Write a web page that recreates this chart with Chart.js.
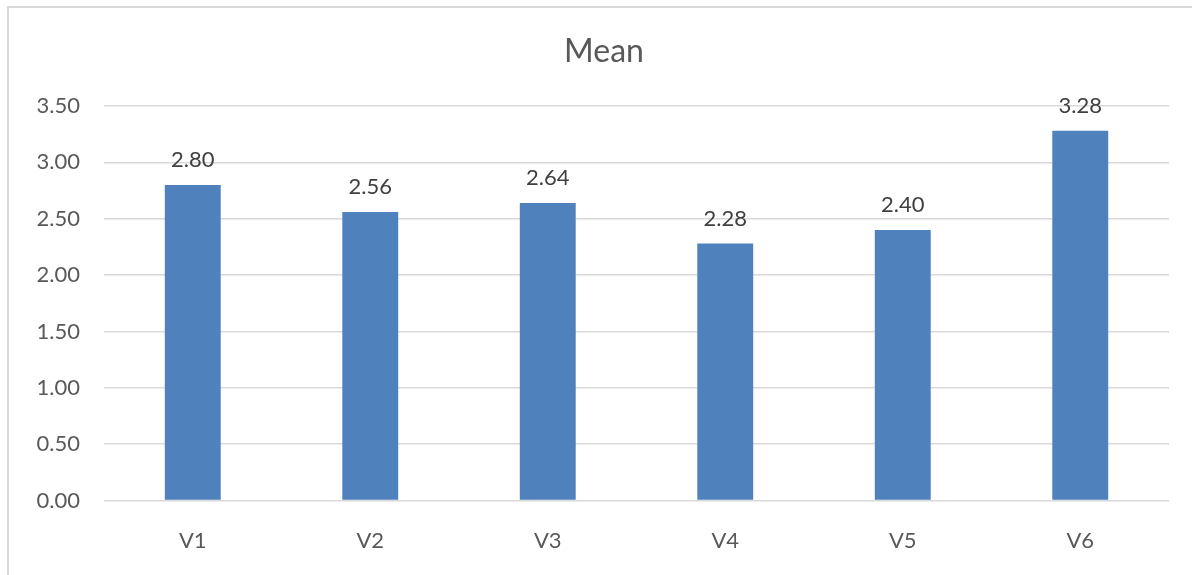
<!DOCTYPE html>
<html>
<head>
<meta charset="utf-8">
<script src="https://cdn.jsdelivr.net/npm/chart.js@4/dist/chart.umd.min.js"></script>
<style>
  html, body { margin: 0; padding: 0; background: #ffffff; overflow: hidden; width: 1192px; height: 575px; }
  #frame { position: absolute; left: 7px; top: 6px; width: 1400px; height: 800px; border: 2px solid #d9d9d9; box-sizing: border-box; }
  #wrap { position: absolute; left: 8px; top: 7px; width: 1192px; height: 568px; }
</style>
</head>
<body>
<div id="frame"></div>
<div id="wrap"><canvas id="c" width="1192" height="568"></canvas></div>
<script>
// Categories and mean values per variable
const categories = ['V1', 'V2', 'V3', 'V4', 'V5', 'V6'];
const meanValues = [2.80, 2.56, 2.64, 2.28, 2.40, 3.28];
const yTicks = [0, 0.5, 1, 1.5, 2, 2.5, 3, 3.5];

const FONT = 'Lato, "Open Sans", "Liberation Sans", sans-serif';

// Writes each bar's value just above it
const valueLabels = {
  id: 'valueLabels',
  afterDatasetsDraw(chart) {
    const ctx = chart.ctx;
    const meta = chart.getDatasetMeta(0);
    ctx.save();
    ctx.font = '22px ' + FONT;
    ctx.fillStyle = '#404040';
    ctx.textAlign = 'center';
    ctx.textBaseline = 'alphabetic';
    meta.data.forEach((bar, i) => {
      ctx.fillText(meanValues[i].toFixed(2), bar.x, bar.y - 18);
    });
    ctx.restore();
  }
};

// Centres the title across the full canvas width rather than the padded box
const centreTitle = {
  id: 'centreTitle',
  afterLayout(chart) {
    const t = chart.titleBlock;
    if (t) {
      t.left = 0;
      t.right = chart.width;
      t.width = chart.width;
    }
  }
};

new Chart(document.getElementById('c'), {
  type: 'bar',
  data: {
    labels: categories,
    datasets: [{
      label: 'Mean',
      data: meanValues,
      backgroundColor: '#4f81bd',
      borderWidth: 0,
      categoryPercentage: 0.315,
      barPercentage: 1
    }]
  },
  options: {
    responsive: false,
    animation: false,
    devicePixelRatio: 1,
    layout: { padding: { left: 0, right: 31, top: 0, bottom: 0 } },
    plugins: {
      legend: { display: false },
      tooltip: { enabled: false },
      title: {
        display: true,
        text: 'Mean',
        color: '#595959',
        font: { family: FONT, size: 32, weight: 'normal', lineHeight: 1.2 },
        padding: { top: 25, bottom: 35.6 }
      }
    },
    scales: {
      x: {
        grid: { display: false, drawTicks: false },
        border: { display: false },
        ticks: { color: '#595959', font: { family: FONT, size: 22 }, padding: 27 },
        afterFit(scale) { scale.height = 74.5; }
      },
      y: {
        min: 0,
        max: 3.5,
        afterBuildTicks(scale) { scale.ticks = yTicks.map(v => ({ value: v })); },
        grid: { color: '#d9d9d9', lineWidth: 1.5, drawTicks: false },
        border: { display: false },
        ticks: {
          color: '#595959',
          font: { family: FONT, size: 22 },
          padding: 24,
          callback: v => Number(v).toFixed(2)
        },
        afterFit(scale) { scale.width = 96; }
      }
    }
  },
  plugins: [valueLabels, centreTitle]
});
</script>
</body>
</html>
